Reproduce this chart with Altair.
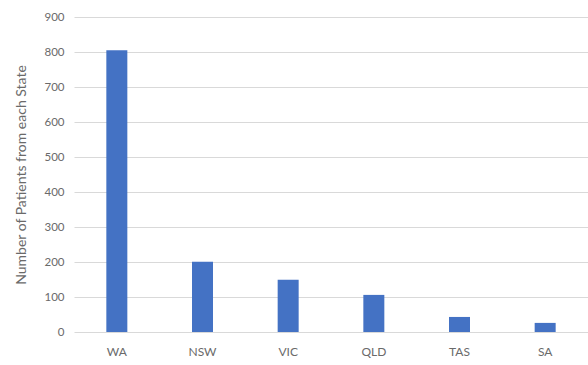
import altair as alt
import pandas as pd

states = ["WA", "NSW", "VIC", "QLD", "TAS", "SA"]
patients = [805, 201, 149, 106, 43, 26]

df = pd.DataFrame({"State": states, "Patients": patients})

chart = alt.Chart(df).mark_bar(color="#4472C4", size=21).encode(
    x=alt.X("State:N", sort=states, title=None,
            scale=alt.Scale(paddingInner=0.75, paddingOuter=0.375),
            axis=alt.Axis(labelAngle=0, ticks=False, domain=False, grid=False,
                          labelPadding=14, labelFont="Lato", labelFontSize=12,
                          labelColor="#6a6a6a")),
    y=alt.Y("Patients:Q", title="Number of Patients from each State",
            scale=alt.Scale(domain=[0, 900], nice=False),
            axis=alt.Axis(values=list(range(0, 901, 100)), ticks=False, domain=False,
                          gridColor="#d9d9d9", labelPadding=10, labelFont="Lato",
                          labelFontSize=11.5, labelColor="#6a6a6a",
                          titleFont="Lato", titleFontSize=14, titleFontWeight="normal",
                          titleColor="#6a6a6a", titlePadding=15)),
).properties(
    width=514, height=315,
    autosize=alt.AutoSizeParams(type="none"),
    padding={"left": 74, "top": 17, "right": 0, "bottom": 33},
).configure_view(stroke=None)

chart.save("out.html", embed_options={"renderer": "svg", "actions": False})
